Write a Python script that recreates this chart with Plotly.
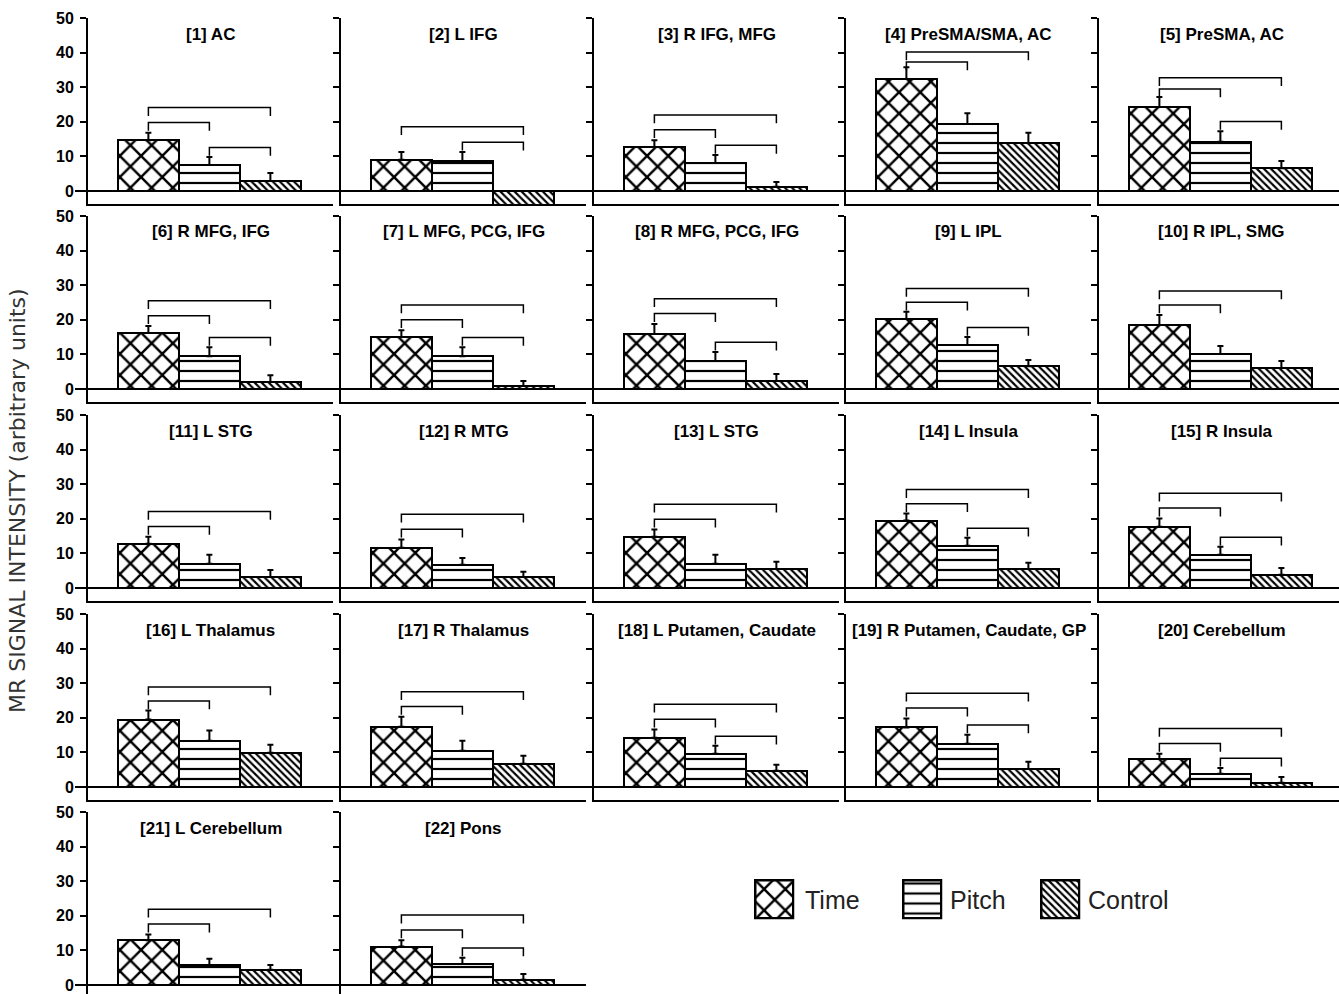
import plotly.graph_objects as go

# ---- data: mean MR signal per region and condition, with SEM ----
regions = [
    "[1] AC", "[2] L IFG", "[3] R IFG, MFG", "[4] PreSMA/SMA, AC", "[5] PreSMA, AC",
    "[6] R MFG, IFG", "[7] L MFG, PCG, IFG", "[8] R MFG, PCG, IFG", "[9] L IPL", "[10] R IPL, SMG",
    "[11] L STG", "[12] R MTG", "[13] L STG", "[14] L Insula", "[15] R Insula",
    "[16] L Thalamus", "[17] R Thalamus", "[18] L Putamen, Caudate", "[19] R Putamen, Caudate, GP",
    "[20] Cerebellum", "[21] L Cerebellum", "[22] Pons",
]
conditions = ["Time", "Pitch", "Control"]

time_mean = [14.7, 9.0, 12.7, 32.4, 24.3, 16.2, 15.0, 15.9, 20.2, 18.5, 12.8,
             11.6, 14.8, 19.5, 17.7, 19.5, 17.4, 14.2, 17.2, 8.1, 12.9, 11.1]
pitch_mean = [7.5, 8.7, 8.1, 19.4, 14.2, 9.5, 9.5, 8.1, 12.7, 10.1, 7.0,
              6.7, 7.0, 12.2, 9.6, 13.4, 10.5, 9.6, 12.5, 3.8, 5.8, 6.1]
control_mean = [2.9, -4.3, 1.2, 13.9, 6.6, 2.0, 0.9, 2.3, 6.6, 6.1, 3.2,
                3.2, 5.5, 5.5, 3.8, 9.9, 6.7, 4.7, 5.2, 1.2, 4.4, 1.5]

time_sem = [2.1, 2.3, 2.0, 3.4, 2.9, 2.0, 2.0, 2.9, 2.1, 2.9, 2.0,
            2.4, 2.1, 2.0, 2.4, 2.6, 2.9, 2.4, 2.6, 1.5, 1.7, 1.8]
pitch_sem = [2.3, 2.6, 2.3, 3.1, 3.1, 2.6, 2.6, 2.6, 2.3, 2.3, 2.6,
             2.0, 2.6, 2.3, 2.3, 2.9, 2.9, 2.3, 2.6, 1.7, 1.8, 1.8]
control_sem = [2.3, 2.0, 1.4, 2.9, 2.1, 2.0, 1.4, 2.0, 1.8, 2.0, 2.0,
               1.5, 2.1, 1.8, 2.0, 2.3, 2.3, 1.7, 2.1, 1.7, 1.4, 1.7]

# significant pairwise differences (brackets)
sig_time_pitch = [True, False, True, True, True, True, True, True, True, True, True,
                  True, True, True, True, True, True, True, True, True, True, True]
sig_time_control = [True] * 22
sig_pitch_control = [True, True, True, False, True, True, True, True, True, False, False,
                     False, False, True, True, False, False, True, True, True, False, True]

y_ticks = [0, 10, 20, 30, 40, 50]

# ---- appearance ----
W, H = 1339, 994
FONT = "Liberation Sans, Arial, sans-serif"
N_COLS = 5
COL_X0, COL_STEP, PANEL_W = 88.0, 252.75, 245.0
ROW_Y0, ROW_STEP = 18.0, 198.5
ZERO_OFFSET, BOTTOM_OFFSET = 173.0, 186.0     # px below the "50" tick
PX_PER_X, X_LEFT = 61.0, -0.99
PX_PER_Y = ZERO_OFFSET / 50.0

pattern_shape = ["x", "-", "\\"]
pattern_size = [15, 10, 5]
pattern_solidity = [0.3, 0.22, 0.42]

BR_DROP = 2.4

fig = go.Figure()
shapes, annotations = [], []
layout_axes = {}


def bracket(xa, ya, x0, x1, level):
    return dict(type="path", xref=xa, yref=ya,
                path=f"M {x0},{level - BR_DROP} L {x0},{level} L {x1},{level} L {x1},{level - BR_DROP}",
                line=dict(color="black", width=1.5), layer="above")


def bracket_gap(top):
    """Clearance above an error bar; tighter for tall bars so brackets stay under the title."""
    return 3.0 if top <= 20 else max(1.5, 3.0 - 0.1 * (top - 20))


for i, name in enumerate(regions):
    r, c = divmod(i, N_COLS)
    n = i + 1
    xa, ya = ("x" if n == 1 else f"x{n}"), ("y" if n == 1 else f"y{n}")
    xk, yk = ("xaxis" if n == 1 else f"xaxis{n}"), ("yaxis" if n == 1 else f"yaxis{n}")

    left = round(COL_X0 + COL_STEP * c)
    right = min(left + PANEL_W, W)
    top = round(ROW_Y0 + ROW_STEP * r)
    zero_px = top + ZERO_OFFSET
    bottom = min(top + BOTTOM_OFFSET, H)

    x_range = [X_LEFT, X_LEFT + (right - left) / PX_PER_X]
    y_range = [-(bottom - zero_px) / PX_PER_Y, 50]

    means = [time_mean[i], pitch_mean[i], control_mean[i]]
    sems = [time_sem[i], pitch_sem[i], control_sem[i]]
    up = [s if m >= 0 else 0 for m, s in zip(means, sems)]
    down = [s if m < 0 else 0 for m, s in zip(means, sems)]

    fig.add_trace(go.Bar(
        x=[0, 1, 2], y=means, width=1, xaxis=xa, yaxis=ya,
        marker=dict(color="white", line=dict(color="black", width=2),
                    pattern=dict(shape=pattern_shape, size=pattern_size,
                                 solidity=pattern_solidity, fgcolor="black",
                                 bgcolor="white", fillmode="replace")),
        error_y=dict(type="data", symmetric=False, array=up, arrayminus=down,
                     color="black", thickness=2, width=3),
        showlegend=False, hoverinfo="skip",
    ))

    layout_axes[xk] = dict(domain=[left / W, right / W], range=x_range, anchor=ya,
                           showgrid=False, zeroline=False, showticklabels=False, ticks="",
                           showline=(r < 4), linecolor="black", linewidth=2,
                           automargin=False, fixedrange=True)
    layout_axes[yk] = dict(domain=[1 - bottom / H, 1 - top / H], range=y_range, anchor=xa,
                           showgrid=False, zeroline=False, tickvals=y_ticks,
                           showticklabels=(c == 0), ticks="outside", ticklen=6, tickwidth=2,
                           tickcolor="black", showline=True, linecolor="black", linewidth=2,
                           ticklabelstandoff=3, automargin=False,
                           tickfont=dict(family=FONT, size=16, color="black", weight="bold"),
                           fixedrange=True)

    # zero baseline running across the panel
    ext = 13.0 if c == 0 else 6.0
    shapes.append(dict(type="line", xref=f"{xa} domain", yref=ya,
                       x0=-ext / (right - left), x1=1, y0=0, y1=0,
                       line=dict(color="black", width=2), layer="above"))

    # significance brackets
    tops = [m + s if m >= 0 else 0 for m, s in zip(means, sems)]
    t_top = max(tops[0], tops[1])
    g = bracket_gap(t_top)
    tp_level = t_top + g
    tc_level = tp_level + max(2.9, 4.3 * g / 3.0)
    if sig_time_pitch[i]:
        shapes.append(bracket(xa, ya, 0, 1, tp_level))
    if sig_time_control[i]:
        shapes.append(bracket(xa, ya, 0, 2, tc_level))
    if sig_pitch_control[i]:
        p_top = max(tops[1], tops[2])
        shapes.append(bracket(xa, ya, 1, 2, p_top + 2.8))

    cx = left + PANEL_W / 2
    annotations.append(dict(text=f"<b>{name}</b>", xref="paper", yref="paper",
                            x=cx / W, y=1 - (top + 16) / H, xanchor="center", yanchor="middle",
                            showarrow=False, font=dict(family=FONT, size=17, color="black")))

# ---- legend swatches drawn as tiny bar panels ----
legend_boxes = [(755, 880), (903, 880), (1041, 880)]
legend_text_x = [803, 948, 1086]
BOX = 38.0
for k, cond in enumerate(conditions):
    n = len(regions) + 1 + k
    xa, ya = f"x{n}", f"y{n}"
    bx, by = legend_boxes[k]
    pad = 1.5
    fig.add_trace(go.Bar(
        x=[0], y=[1], width=1, xaxis=xa, yaxis=ya,
        marker=dict(color="white", line=dict(color="black", width=2.5),
                    pattern=dict(shape=pattern_shape[k], size=pattern_size[k],
                                 solidity=pattern_solidity[k], fgcolor="black",
                                 bgcolor="white", fillmode="replace")),
        showlegend=False, hoverinfo="skip",
    ))
    fx = pad / BOX
    layout_axes[f"xaxis{n}"] = dict(domain=[(bx - pad) / W, (bx + BOX + pad) / W],
                                    range=[-0.5 - fx, 0.5 + fx], visible=False,
                                    automargin=False, fixedrange=True)
    layout_axes[f"yaxis{n}"] = dict(domain=[1 - (by + BOX + pad) / H, 1 - (by - pad) / H],
                                    range=[-fx, 1 + fx], visible=False,
                                    automargin=False, fixedrange=True)
    annotations.append(dict(text=cond, xref="paper", yref="paper",
                            x=legend_text_x[k] / W, y=1 - (by + BOX / 2 + 1) / H,
                            xanchor="left", yanchor="middle", showarrow=False,
                            font=dict(family=FONT, size=25, color="#222")))

# shared y-axis title
annotations.append(dict(text="MR SIGNAL INTENSITY (arbitrary units)", xref="paper", yref="paper",
                        x=17 / W, y=1 - 501 / H, textangle=-90, xanchor="center",
                        yanchor="middle", showarrow=False,
                        font=dict(family="DejaVu Sans, sans-serif", size=22, color="#333")))

fig.update_layout(
    width=W, height=H, margin=dict(l=0, r=0, t=0, b=0, autoexpand=False),
    paper_bgcolor="white", plot_bgcolor="rgba(0,0,0,0)",
    showlegend=False, bargap=0, barmode="group",
    shapes=shapes, annotations=annotations, **layout_axes,
)

fig.write_html("out.html")
